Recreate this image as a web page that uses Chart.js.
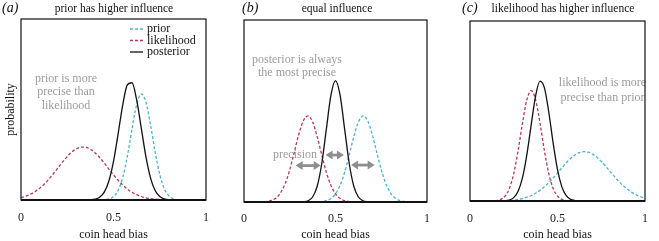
<!DOCTYPE html>
<html>
<head>
<meta charset="utf-8">
<script src="https://cdn.jsdelivr.net/npm/chart.js@4.4.0/dist/chart.umd.min.js"></script>
<style>
  body { margin: 0; background: #fff; width: 659px; height: 241px; overflow: hidden; position: relative; font-family: "Liberation Serif", serif; }
  canvas { position: absolute; top: 0; }
  .ttl { position: absolute; top: 1px; font-size: 11.5px; line-height: 14px; white-space: nowrap; transform: translateX(-50%); color: #111; }
  .lbl { position: absolute; top: 0; font-size: 14px; line-height: 16px; font-style: italic; color: #111; }
</style>
</head>
<body>
<canvas id="ca" width="220" height="241" style="left:0"></canvas>
<canvas id="cb" width="220" height="241" style="left:220px"></canvas>
<canvas id="cc" width="219" height="241" style="left:440px"></canvas>

<div class="lbl" style="left:2px">(a)</div>
<div class="ttl" style="left:114px">prior has higher influence</div>
<div class="lbl" style="left:242px">(b)</div>
<div class="ttl" style="left:337px">equal influence</div>
<div class="lbl" style="left:462px">(c)</div>
<div class="ttl" style="left:563px">likelihood has higher influence</div>

<script>
// coin head bias, paso de 0.025
const XS = [0, 0.025, 0.05, 0.075, 0.1, 0.125, 0.15, 0.175, 0.2, 0.225,
  0.25, 0.275, 0.3, 0.325, 0.35, 0.375, 0.4, 0.425, 0.45, 0.475,
  0.5, 0.525, 0.55, 0.575, 0.6, 0.625, 0.65, 0.675, 0.7, 0.725,
  0.75, 0.775, 0.8, 0.825, 0.85, 0.875, 0.9, 0.925, 0.95, 0.975, 1];

const TICK_VALUES = [0, 0.5, 1];
const TICK_LABELS = ["0", "0.5", "1"];
const SERIES = ["prior", "likelihood", "posterior"];

// (a) prior has higher influence
const A_PRIOR = [0, 0, 0, 0, 0, 0, 0, 0, 0, 0,
  0, 0, 0, 0, 0, 0, 0, 0.0003, 0.0014, 0.0056,
  0.0189, 0.0533, 0.1248, 0.2428, 0.3921, 0.5258, 0.5857, 0.5417, 0.4161, 0.2654,
  0.1406, 0.0618, 0.0226, 0.0069, 0.0017, 0.0004, 0.0001, 0, 0, 0, 0];
const A_LIKELIHOOD = [0.0135, 0.0210, 0.0316, 0.0459, 0.0644, 0.0874, 0.1146, 0.1452, 0.1777, 0.2102,
  0.2403, 0.2655, 0.2833, 0.2922, 0.2912, 0.2804, 0.2609, 0.2346, 0.2038, 0.1711,
  0.1388, 0.1088, 0.0825, 0.0604, 0.0427, 0.0292, 0.0193, 0.0123, 0.0076, 0.0045,
  0.0026, 0.0014, 0.0008, 0.0004, 0.0002, 0, 0, 0, 0, 0, 0];
const A_POSTERIOR = [0, 0, 0, 0, 0, 0, 0, 0, 0, 0,
  0, 0, 0, 0, 0.0002, 0.0011, 0.0044, 0.0150, 0.0432, 0.1047,
  0.2133, 0.3654, 0.5260, 0.6368, 0.6479, 0.5542, 0.3985, 0.2409, 0.1223, 0.0523,
  0.0188, 0.0057, 0.0014, 0.0003, 0.0001, 0, 0, 0, 0, 0, 0];

// (b) equal influence
const B_PRIOR = [0, 0, 0, 0, 0, 0, 0, 0, 0, 0,
  0, 0, 0, 0, 0, 0.0002, 0.0007, 0.0025, 0.0074, 0.0194,
  0.0448, 0.0912, 0.1636, 0.2583, 0.3590, 0.4391, 0.4728, 0.4481, 0.3739, 0.2746,
  0.1775, 0.1010, 0.0506, 0.0223, 0.0087, 0.0030, 0.0009, 0.0002, 0.0001, 0, 0];
const B_LIKELIHOOD = [0, 0, 0.0001, 0.0002, 0.0009, 0.0030, 0.0087, 0.0223, 0.0506, 0.1010,
  0.1775, 0.2746, 0.3739, 0.4481, 0.4728, 0.4391, 0.3590, 0.2583, 0.1636, 0.0912,
  0.0448, 0.0194, 0.0074, 0.0025, 0.0007, 0.0002, 0, 0, 0, 0,
  0, 0, 0, 0, 0, 0, 0, 0, 0, 0, 0];
const B_POSTERIOR = [0, 0, 0, 0, 0, 0, 0, 0, 0, 0,
  0, 0, 0.0002, 0.0013, 0.0068, 0.0275, 0.0866, 0.2116, 0.4005, 0.5871,
  0.667, 0.5871, 0.4005, 0.2116, 0.0866, 0.0275, 0.0068, 0.0013, 0.0002, 0,
  0, 0, 0, 0, 0, 0, 0, 0, 0, 0, 0];

// (c) likelihood has higher influence
const C_PRIOR = [0, 0, 0, 0.0001, 0.0002, 0.0004, 0.0007, 0.0012, 0.0020, 0.0034,
  0.0057, 0.0090, 0.0139, 0.0209, 0.0304, 0.0430, 0.0591, 0.0787, 0.1018, 0.1279,
  0.1559, 0.1845, 0.2119, 0.2362, 0.2557, 0.2686, 0.2739, 0.2712, 0.2606, 0.2431,
  0.2201, 0.1934, 0.1651, 0.1367, 0.1099, 0.0858, 0.0650, 0.0478, 0.0341, 0.0236, 0.0159];
const C_LIKELIHOOD = [0, 0, 0, 0, 0.0001, 0.0005, 0.0024, 0.0087, 0.0269, 0.0700,
  0.1529, 0.2806, 0.4332, 0.5620, 0.613, 0.5620, 0.4332, 0.2806, 0.1529, 0.0700,
  0.0269, 0.0087, 0.0024, 0.0005, 0.0001, 0, 0, 0, 0, 0,
  0, 0, 0, 0, 0, 0, 0, 0, 0, 0, 0];
const C_POSTERIOR = [0, 0, 0, 0, 0, 0, 0, 0.0003, 0.0013, 0.0054,
  0.0188, 0.0542, 0.1297, 0.2580, 0.4261, 0.5844, 0.6655, 0.6295, 0.4944, 0.3225,
  0.1747, 0.0786, 0.0293, 0.0091, 0.0023, 0.0005, 0.0001, 0, 0, 0,
  0, 0, 0, 0, 0, 0, 0, 0, 0, 0, 0];

const ESTILOS = {
  prior: { color: "#4fb2cc", dash: [3, 2] },
  likelihood: { color: "#b33a5c", dash: [3, 2] },
  posterior: { color: "#111111", dash: [] },
};
const SERIF = '"Liberation Serif", serif';
const GRIS = "#9c9c9c";

// marco, leyenda, notas y flechas
const marcoPlugin = {
  id: "marco",
  beforeDatasetsDraw(chart, args, opts) {
    const ctx = chart.ctx;
    ctx.save();
    ctx.font = "12px " + SERIF;
    ctx.fillStyle = GRIS;
    ctx.textAlign = "center";
    ctx.textBaseline = "middle";
    (opts.notas || []).forEach((n) => {
      n.lineas.forEach((t, i) => ctx.fillText(t, n.x, n.y + i * n.salto));
    });
    const sx = chart.scales.x, sy = chart.scales.y;
    ctx.strokeStyle = "#8e8e8e";
    ctx.fillStyle = "#8e8e8e";
    ctx.lineWidth = 2.8;
    (opts.flechas || []).forEach((f) => {
      const x0 = sx.getPixelForValue(f.x0), x1 = sx.getPixelForValue(f.x1);
      const y = sy.getPixelForValue(f.y);
      const h = 7, w = 4.5;
      ctx.beginPath();
      ctx.moveTo(x0 + h - 1, y);
      ctx.lineTo(x1 - h + 1, y);
      ctx.stroke();
      ctx.beginPath();
      ctx.moveTo(x0, y); ctx.lineTo(x0 + h, y - w); ctx.lineTo(x0 + h, y + w); ctx.closePath();
      ctx.moveTo(x1, y); ctx.lineTo(x1 - h, y - w); ctx.lineTo(x1 - h, y + w); ctx.closePath();
      ctx.fill();
    });
    ctx.restore();
  },
  afterDatasetsDraw(chart, args, opts) {
    const ctx = chart.ctx;
    const { left, right, top, bottom } = chart.chartArea;
    ctx.save();
    ctx.strokeStyle = "#111";
    ctx.lineWidth = 1.2;
    ctx.strokeRect(left, top, right - left, bottom - top);
    ctx.lineWidth = 2;
    ctx.beginPath();
    ctx.moveTo(left, bottom);
    ctx.lineTo(right, bottom);
    ctx.stroke();
    if (opts.leyenda) {
      const l = opts.leyenda;
      ctx.font = "12px " + SERIF;
      ctx.textAlign = "left";
      ctx.textBaseline = "middle";
      chart.data.datasets.forEach((ds, i) => {
        const y = l.y + i * l.salto;
        ctx.strokeStyle = ds.borderColor;
        ctx.lineWidth = 1.3;
        ctx.setLineDash(ds.borderDash);
        ctx.beginPath();
        ctx.moveTo(l.x, y);
        ctx.lineTo(l.x + 13, y);
        ctx.stroke();
        ctx.setLineDash([]);
        ctx.fillStyle = "#111";
        ctx.fillText(ds.label, l.x + 17, y);
      });
    }
    ctx.restore();
  },
};

const crearPanel = (id, series, caja, extras) => {
  const datasets = SERIES.map((nombre, i) => ({
    label: nombre,
    data: XS.map((x, j) => ({ x: x, y: series[i][j] })),
    borderColor: ESTILOS[nombre].color,
    borderDash: ESTILOS[nombre].dash,
    borderWidth: 1.3,
    pointRadius: 0,
    cubicInterpolationMode: "monotone",
    fill: false,
    order: 2 - i,
  }));
  return new Chart(document.getElementById(id), {
    type: "line",
    data: { datasets: datasets },
    plugins: [marcoPlugin],
    options: {
      responsive: false,
      animation: false,
      layout: { padding: { left: caja.izq, right: caja.der, top: caja.arriba, bottom: 0 } },
      scales: {
        x: {
          type: "linear",
          min: 0,
          max: 1,
          grid: { display: false, drawTicks: false },
          border: { display: false },
          afterBuildTicks: (s) => { s.ticks = TICK_VALUES.map((v) => ({ value: v })); },
          afterFit: (s) => { s.height = caja.abajo; },
          ticks: {
            callback: (v, i) => TICK_LABELS[i],
            font: { family: SERIF, size: 12 },
            color: "#222",
            padding: caja.pad,
            maxRotation: 0,
            autoSkip: false,
          },
          title: {
            display: true,
            text: "coin head bias",
            font: { family: SERIF, size: 12, lineHeight: 1 },
            color: "#111",
            padding: 0,
          },
        },
        y: {
          display: caja.ejeY,
          min: 0,
          max: 1,
          grid: { display: false, drawTicks: false },
          border: { display: false },
          ticks: { display: false },
          afterFit: (s) => { s.width = caja.ejeY ? 21 : 0; },
          title: {
            display: true,
            text: "probability",
            font: { family: SERIF, size: 12 },
            color: "#111",
            padding: { top: 4, bottom: 0 },
          },
        },
      },
      plugins: {
        legend: { display: false },
        tooltip: { enabled: false },
        marco: extras,
      },
    },
  });
};

crearPanel("ca", [A_PRIOR, A_LIKELIHOOD, A_POSTERIOR],
  { izq: 0, der: 12, arriba: 19, abajo: 41, pad: 11, ejeY: true },
  {
    leyenda: { x: 130, y: 29, salto: 11.5 },
    notas: [{ x: 66, y: 79, salto: 13.2, lineas: ["prior is more", "precise than", "likelihood"] }],
  });

crearPanel("cb", [B_PRIOR, B_LIKELIHOOD, B_POSTERIOR],
  { izq: 24, der: 9.3, arriba: 20, abajo: 39, pad: 10, ejeY: false },
  {
    notas: [
      { x: 77, y: 59.5, salto: 13.3, lineas: ["posterior is always", "the most precise"] },
      { x: 75, y: 155, salto: 0, lineas: ["precision"] },
    ],
    flechas: [
      { x0: 0.282, x1: 0.419, y: 0.2 },
      { x0: 0.446, x1: 0.546, y: 0.258 },
      { x0: 0.585, x1: 0.714, y: 0.203 },
    ],
  });

crearPanel("cc", [C_PRIOR, C_LIKELIHOOD, C_POSTERIOR],
  { izq: 30, der: 3, arriba: 21, abajo: 40, pad: 11, ejeY: false },
  {
    notas: [{ x: 162.5, y: 83.3, salto: 15, lineas: ["likelihood is more", "precise than prior"] }],
  });
</script>
</body>
</html>
